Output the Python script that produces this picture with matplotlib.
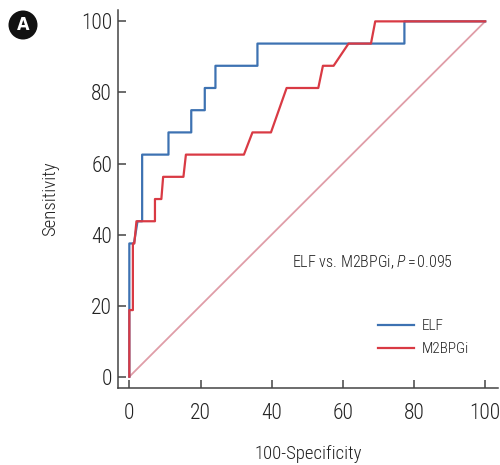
"""
ROC曲線 (ELF vs. M2BPGi) の再現
"""
import numpy as np
import matplotlib
matplotlib.use('Agg')
import matplotlib.pyplot as plt
from matplotlib import font_manager
from matplotlib.patches import Circle

# 細めのフォントがあれば使う
names = {f.name for f in font_manager.fontManager.ttflist}
narrow = [n for n in ['Liberation Sans Narrow', 'Roboto Condensed', 'DejaVu Sans Condensed'] if n in names]
plt.rcParams['font.family'] = narrow + ['Roboto', 'DejaVu Sans']
plt.rcParams['font.stretch'] = 'condensed'
plt.rcParams['font.weight'] = 'light'
plt.rcParams['axes.labelweight'] = 'light'
if narrow:
    plt.rcParams['mathtext.fontset'] = 'custom'
    plt.rcParams['mathtext.it'] = f'{narrow[0]}:italic:light'
    plt.rcParams['mathtext.rm'] = f'{narrow[0]}:light'

# --- データ (100-Specificity, Sensitivity) ---
elf_x = [0, 0, 1.3, 2.3, 3.6, 3.6, 11.0, 11.0, 17.4, 17.4, 21.2, 21.2,
         24.2, 24.2, 36.0, 36.0, 77.3, 77.3, 100]
elf_y = [0, 37.5, 37.5, 43.75, 43.75, 62.5, 62.5, 68.75, 68.75, 75, 75, 81.25,
         81.25, 87.5, 87.5, 93.75, 93.75, 100, 100]

m2_x = [0, 0, 1.0, 1.0, 1.4, 2.0, 7.2, 7.2, 9.0, 9.5, 15.2, 15.9, 32.2, 34.6,
        39.8, 44.2, 53.1, 54.4, 57.4, 61.6, 67.9, 69.1, 100]
m2_y = [0, 18.75, 18.75, 37.5, 37.5, 43.75, 43.75, 50, 50, 56.25, 56.25, 62.5,
        62.5, 68.75, 68.75, 81.25, 81.25, 87.5, 87.5, 93.75, 93.75, 100, 100]

ref_x = [0, 100]
ref_y = [0, 100]

ticks = [0, 20, 40, 60, 80, 100]
p_value = 0.095

blue = '#3d72b2'
red = '#d93a44'

fig = plt.figure(figsize=(5.0, 4.65), dpi=100)
ax = fig.add_axes([0.2366, 0.1662, 0.7594, 0.8123])

ax.plot(ref_x, ref_y, color='#d88592', linewidth=1.3, alpha=0.8, zorder=1)
ax.plot(elf_x, elf_y, color=blue, linewidth=1.6, label='ELF', zorder=2)
ax.plot(m2_x, m2_y, color=red, linewidth=1.6, label='M2BPGi', zorder=3)

ax.set_xlim(-3.1, 103.6)
ax.set_ylim(-3.1, 103.2)
ax.set_xticks(ticks)
ax.set_yticks(ticks)

for side in ['top', 'right']:
    ax.spines[side].set_visible(False)
for side in ['left', 'bottom']:
    ax.spines[side].set_color('#444444')
    ax.spines[side].set_linewidth(1.1)

ax.tick_params(axis='both', direction='in', length=5.5, width=1.1,
               color='#444444', labelsize=15.5, labelcolor='#222222')
ax.tick_params(axis='x', pad=11)
ax.tick_params(axis='y', pad=4.5)

ax.set_xlabel('100-Specificity', fontsize=13.5, color='#222222', labelpad=15)
ax.set_ylabel('Sensitivity', fontsize=13.5, color='#222222', labelpad=16)

ax.text(45.6, 32.3, f'ELF vs. M2BPGi, $P$$\\,$=$\\,${p_value}', fontsize=11.5,
        color='#222222', ha='left', va='center')

leg = ax.legend(loc='center left', bbox_to_anchor=(0.685, 0.133), frameon=False,
                fontsize=11, handlelength=2.3, handletextpad=0.55,
                labelspacing=0.6, borderpad=0, borderaxespad=0)
for t in leg.get_texts():
    t.set_color('#222222')

# 左上の "A" マーク
fig.patches.append(Circle((0.23, 4.40), 0.145, transform=fig.dpi_scale_trans,
                          facecolor='#111111', edgecolor='none'))
fig.text(0.23, 4.40, 'A', transform=fig.dpi_scale_trans, color='white',
         fontsize=13, fontweight='bold', ha='center', va='center',
         family=['DejaVu Sans'])

fig.savefig('out.png', dpi=100)
